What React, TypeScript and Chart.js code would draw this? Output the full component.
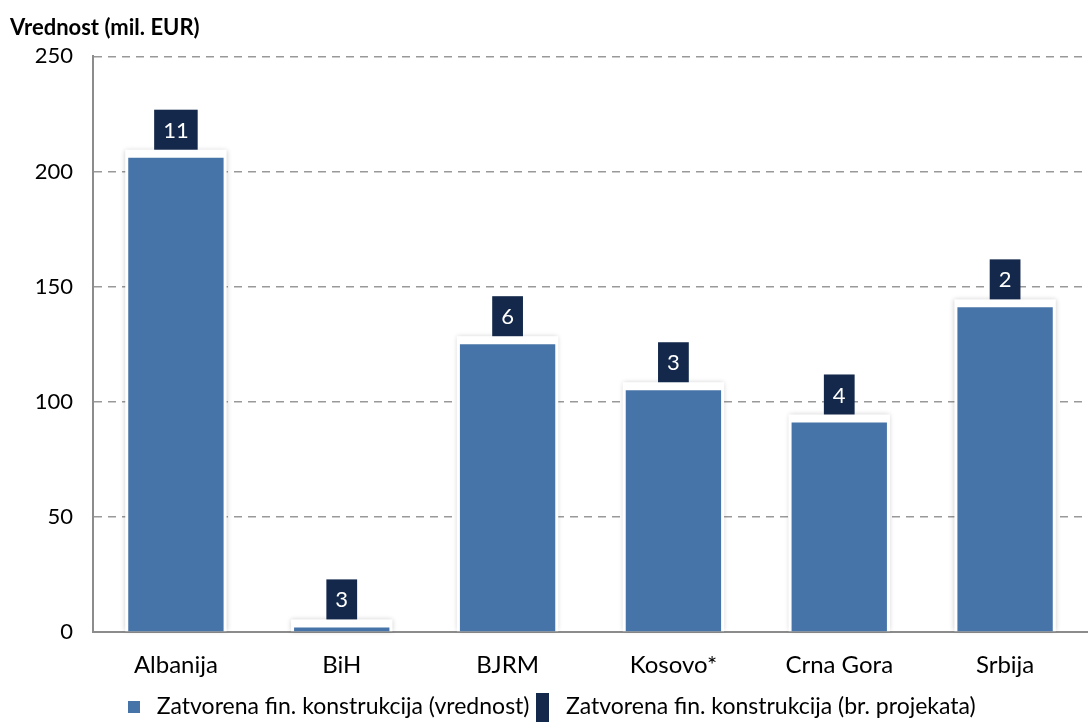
import React, { useEffect, useRef } from "react";
import { Chart, registerables } from "chart.js";

Chart.register(...registerables);

const categories = ["Albanija", "BiH", "BJRM", "Kosovo*", "Crna Gora", "Srbija"];
const values = [206, 2, 125, 105, 91, 141];
const projectCounts = [11, 3, 6, 3, 4, 2];
const yTicks = [0, 50, 100, 150, 200, 250];
const seriesLabels = [
  "Zatvorena fin. konstrukcija (vrednost)",
  "Zatvorena fin. konstrukcija (br. projekata)",
];
const titleText = "Vrednost (mil. EUR)";

const BLUE = "#4774a8";
const NAVY = "#13284a";
const FONT = "Lato, 'Open Sans', sans-serif";

function makeMarker(w: number, h: number, color: string) {
  const c = document.createElement("canvas");
  c.width = w;
  c.height = h;
  const g = c.getContext("2d")!;
  g.fillStyle = color;
  g.fillRect(0, 0, w, h);
  return c;
}

const barBackdrop = {
  id: "barBackdrop",
  beforeDatasetsDraw(chart: any) {
    const ctx = chart.ctx;
    const meta = chart.getDatasetMeta(0);
    ctx.save();
    meta.data.forEach((bar: any) => {
      const w = bar.width + 6;
      const top = bar.y - 8;
      const bottom = bar.base;
      ctx.shadowColor = "rgba(0,0,0,0.2)";
      ctx.shadowBlur = 5;
      ctx.shadowOffsetX = 0;
      ctx.shadowOffsetY = 0;
      ctx.fillStyle = "#ffffff";
      ctx.fillRect(bar.x - w / 2, top, w, bottom - top);
    });
    ctx.restore();
  },
};

const countLabels = {
  id: "countLabels",
  afterDatasetsDraw(chart: any) {
    const ctx = chart.ctx;
    const meta = chart.getDatasetMeta(0);
    ctx.save();
    ctx.font = `22px ${FONT}`;
    meta.data.forEach((bar: any, i: number) => {
      const txt = String(projectCounts[i]);
      const tw = ctx.measureText(txt).width;
      const bw = tw + 18;
      const bh = 40;
      const bottom = bar.y - 8;
      ctx.fillStyle = NAVY;
      ctx.fillRect(bar.x - bw / 2, bottom - bh, bw, bh);
      ctx.fillStyle = "#ffffff";
      ctx.textAlign = "center";
      ctx.textBaseline = "middle";
      ctx.fillText(txt, bar.x, bottom - bh / 2 + 1);
    });
    ctx.restore();
  },
};

export default function App() {
  const ref = useRef<HTMLCanvasElement>(null);
  useEffect(() => {
    document.body.style.margin = "0";
    const markers = [makeMarker(12, 12, BLUE), makeMarker(13, 32, NAVY)];
    const chart = new Chart(ref.current!, {
      type: "bar",
      data: {
        labels: categories,
        datasets: [
          {
            label: seriesLabels[0],
            data: values,
            backgroundColor: BLUE,
            borderWidth: 0,
            barPercentage: 0.575,
            categoryPercentage: 1,
          },
        ],
      },
      options: {
        animation: false,
        responsive: false,
        maintainAspectRatio: false,
        layout: { padding: { left: 10, right: 0, top: 0, bottom: -6 } },
        plugins: {
          tooltip: { enabled: false },
          title: {
            display: true,
            text: titleText,
            align: "start",
            color: "#000",
            font: { family: FONT, size: 22, weight: "bold" },
            padding: { top: 15, bottom: 15 },
          },
          legend: {
            display: true,
            position: "bottom",
            labels: {
              usePointStyle: true,
              color: "#000",
              font: { family: FONT, size: 23 },
              padding: 2,
              generateLabels: () =>
                seriesLabels.map((t, i) => ({
                  text: t,
                  fillStyle: i === 0 ? BLUE : NAVY,
                  strokeStyle: i === 0 ? BLUE : NAVY,
                  lineWidth: 0,
                  pointStyle: markers[i],
                  hidden: false,
                  datasetIndex: i,
                })),
            },
          },
        },
        scales: {
          x: {
            grid: { display: false },
            border: { display: true, color: "#8c8c8c", width: 2 },
            ticks: { color: "#000", font: { family: FONT, size: 24 }, padding: 11 },
            afterFit: (s: any) => {
              s.height = 61;
            },
          },
          y: {
            min: 0,
            max: 250,
            afterBuildTicks: (s: any) => {
              s.ticks = yTicks.map((v) => ({ value: v }));
            },
            grid: {
              color: "#999999",
              lineWidth: 1.5,
              drawTicks: false,
            },
            border: { display: true, color: "#8c8c8c", width: 2, dash: [8, 6] },
            ticks: { color: "#000", font: { family: FONT, size: 22 }, padding: 20 },
            afterFit: (s: any) => {
              s.width = 83;
            },
          },
        },
      },
      plugins: [barBackdrop, countLabels],
    } as any);
    return () => chart.destroy();
  }, []);
  return <canvas ref={ref} width={1088} height={722} style={{ display: "block" }} />;
}
